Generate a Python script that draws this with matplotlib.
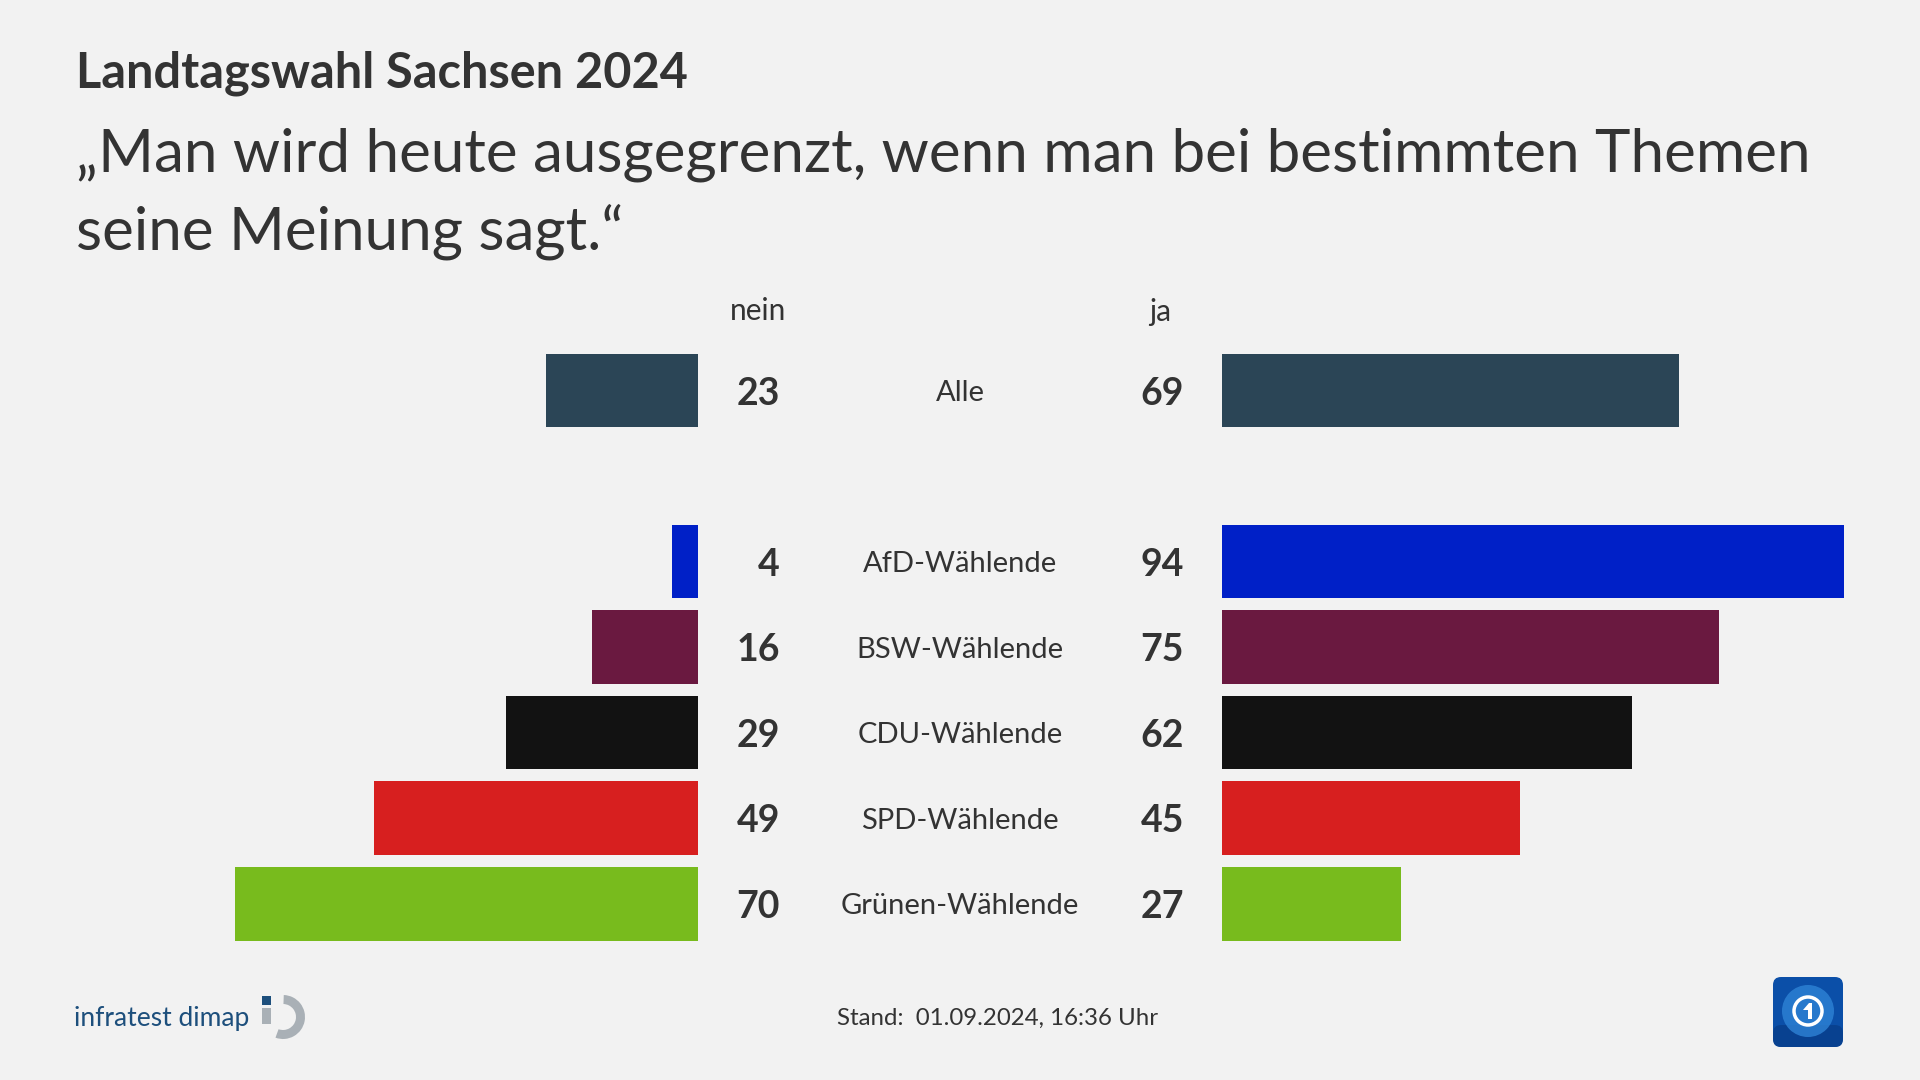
import matplotlib
matplotlib.use("Agg")
import matplotlib.pyplot as plt
from matplotlib.transforms import blended_transform_factory
from matplotlib.patches import FancyBboxPatch, Rectangle, Wedge, Circle, Polygon

plt.rcParams['font.family'] = ['Lato', 'DejaVu Sans']

# ---- data ----
categories = ["Alle", "AfD-Wählende", "BSW-Wählende", "CDU-Wählende", "SPD-Wählende", "Grünen-Wählende"]
row_pos = [0, 2, 3, 4, 5, 6]
nein = [23, 4, 16, 29, 49, 70]
ja = [69, 94, 75, 62, 45, 27]
colors = ["#2b4556", "#0020c7", "#6a1940", "#121212", "#d71f1f", "#78bb1d"]
title = "Landtagswahl Sachsen 2024"
subtitle_lines = ["„Man wird heute ausgegrenzt, wenn man bei bestimmten Themen",
                  "seine Meinung sagt.“"]
header_nein = "nein"
header_ja = "ja"
footer = "Stand:  01.09.2024, 16:36 Uhr"

BG = "#f2f2f2"
TXT = "#333333"
W, H = 1920, 1080

fig = plt.figure(figsize=(19.2, 10.8), dpi=100, facecolor=BG)

def fx(px):
    return px / W

def fy(py):
    return 1 - py / H

# axes geometry (pixels)
scale = 6.62  # px per percentage point
y_top, y_bot = 347.8, 946.5
left_right_edge = 698
right_left_edge = 1222
ax_w = 100 * scale

axL = fig.add_axes([fx(left_right_edge - ax_w), fy(y_bot), fx(ax_w), (y_bot - y_top) / H])
axR = fig.add_axes([fx(right_left_edge), fy(y_bot), fx(ax_w), (y_bot - y_top) / H])
for ax in (axL, axR):
    ax.set_facecolor("none")
    ax.set_ylim(6.5, -0.5)
    ax.axis("off")
axL.set_xlim(100, 0)
axR.set_xlim(0, 100)

axL.barh(row_pos, nein, height=0.86, color=colors, linewidth=0)
axR.barh(row_pos, ja, height=0.86, color=colors, linewidth=0)

# labels in the middle
tr = blended_transform_factory(fig.transFigure, axL.transData)
for y, c, n, j in zip(row_pos, categories, nein, ja):
    fig.text(fx(780), y, str(n), transform=tr, ha="right", va="center_baseline",
             fontsize=27, fontweight="bold", color=TXT)
    fig.text(fx(1184), y, str(j), transform=tr, ha="right", va="center_baseline",
             fontsize=27, fontweight="bold", color=TXT)
    fig.text(fx(960), y, c, transform=tr, ha="center", va="center_baseline",
             fontsize=21, color=TXT)

fig.text(fx(758), fy(309), header_nein, ha="center", va="center_baseline", fontsize=21.5, color=TXT)
fig.text(fx(1160), fy(309), header_ja, ha="center", va="center_baseline", fontsize=21.5, color=TXT)

# titles
fig.text(fx(76), fy(88), title, ha="left", va="baseline", fontsize=35, fontweight="bold", color=TXT)
fig.text(fx(76), fy(171), subtitle_lines[0], ha="left", va="baseline", fontsize=43.3, color=TXT)
fig.text(fx(76), fy(249), subtitle_lines[1], ha="left", va="baseline", fontsize=43.3, color=TXT)

# footer
fig.text(fx(998), fy(1016), footer, ha="center", va="center_baseline", fontsize=17.3, color=TXT)

# infratest dimap logo
fig.text(fx(74), fy(1016), "infratest dimap", ha="left", va="center_baseline",
         fontsize=19, color="#1d4f7c")
fig.patches.append(Rectangle((fx(262), fy(1005)), fx(9), 9 / H, transform=fig.transFigure,
                             color="#1d4f7c", lw=0))
fig.patches.append(Rectangle((fx(262), fy(1024)), fx(9), 16 / H, transform=fig.transFigure,
                             color="#a9b0b6", lw=0))
axI = fig.add_axes([fx(255), fy(1045), fx(56), 56 / H])
axI.set_xlim(0, 56); axI.set_ylim(0, 56); axI.set_aspect("equal"); axI.axis("off")
axI.add_patch(Wedge((28, 28), 22, -110, 88, width=9, color="#a9b0b6", lw=0))

# ARD logo
axA = fig.add_axes([fx(1772), fy(1048), fx(72), 72 / H])
axA.set_xlim(0, 72); axA.set_ylim(0, 72); axA.set_aspect("equal"); axA.axis("off")
axA.add_patch(FancyBboxPatch((1, 1), 70, 70, boxstyle="round,pad=0,rounding_size=8",
                             fc="#0b4fa8", ec="none"))
axA.add_patch(FancyBboxPatch((1, 1), 70, 22, boxstyle="round,pad=0,rounding_size=8",
                             fc="#083c86", ec="none", alpha=0.7))
axA.add_patch(Circle((36, 37), 26, fc="#2e83d6", ec="none", alpha=0.8))
axA.add_patch(Circle((36, 37), 14, fc="none", ec="white", lw=2.5))
axA.add_patch(Polygon([[31, 38], [37, 45], [40, 45], [40, 29], [36, 29], [36, 38]],
                      closed=True, fc="white", ec="none"))

fig.savefig("out.png", dpi=100, facecolor=BG)
